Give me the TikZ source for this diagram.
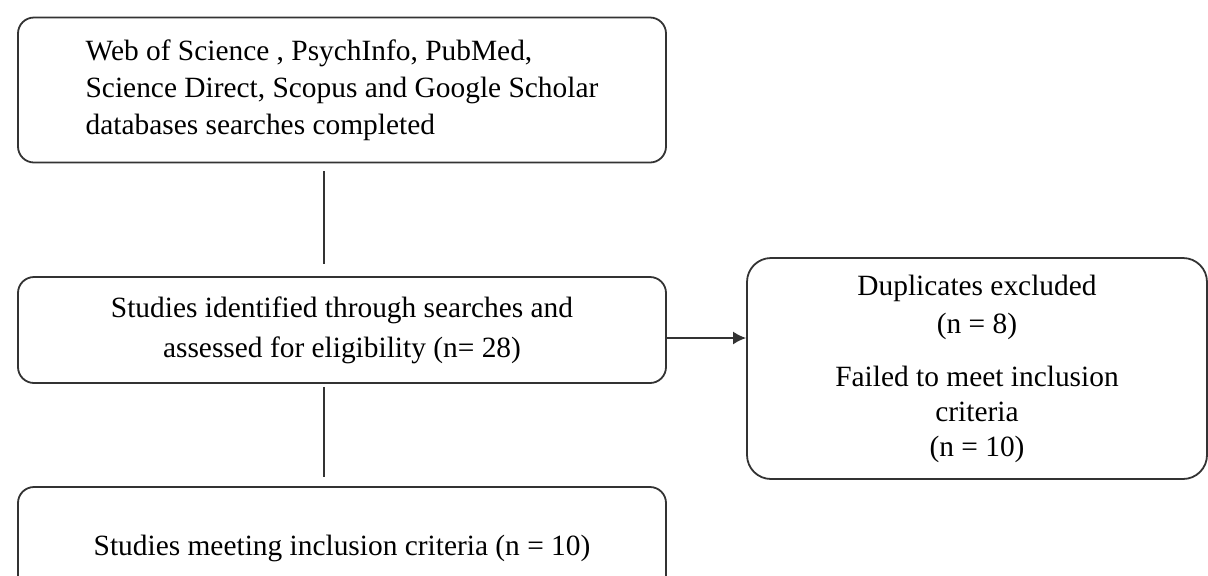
\documentclass[tikz,border=0pt]{standalone}
\usepackage{fontspec}
\setmainfont{Liberation Serif}
\usetikzlibrary{arrows.meta}

\begin{document}
\begin{tikzpicture}[x=0.5pt, y=-0.5pt,
        boite/.style={draw=black!80, line width=0.9pt, rounded corners=8pt, inner sep=0pt,
            font=\fontsize{14.7}{18.5}\selectfont},
        trait/.style={draw=black!80, line width=0.9pt}]
        \path[use as bounding box, clip] (0,0) rectangle (1208,575);

        \node[boite, minimum width=324pt, minimum height=72.5pt, align=left] (S) at (342, 90)
            {Web of Science , PsychInfo, PubMed,\\ Science Direct, Scopus and Google Scholar\\ databases searches completed};
        \node[boite, minimum width=324pt, minimum height=53pt, align=center] (I) at (342, 330)
            {Studies identified through searches and\\[1.5pt] assessed for eligibility (n= 28)};
        \node[boite, rounded corners=12pt, minimum width=230pt, minimum height=110.5pt, align=center] (E) at (977, 368.5)
            {Duplicates excluded\\[0.5pt] (n = 8)\\[8pt] Failed to meet inclusion\\[-1pt] criteria\\[-1pt] (n = 10)};
        \node[boite, minimum width=324pt, minimum height=61pt, align=center] (M) at (342, 548)
            {Studies meeting inclusion criteria (n = 10)};

        \draw[trait, shorten <=4pt, shorten >=6pt] ([xshift=-9pt]S.south) to ([xshift=-9pt]I.north);
        \draw[trait, shorten <=1.5pt, shorten >=4.5pt] ([xshift=-9pt]I.south) to ([xshift=-9pt]M.north);
        \draw[trait, -{Latex[length=6.5pt, width=6.5pt]}] ([yshift=-4pt]I.east) to ([yshift=-4pt]I.east -| E.west);
    \end{tikzpicture}
\end{document}
